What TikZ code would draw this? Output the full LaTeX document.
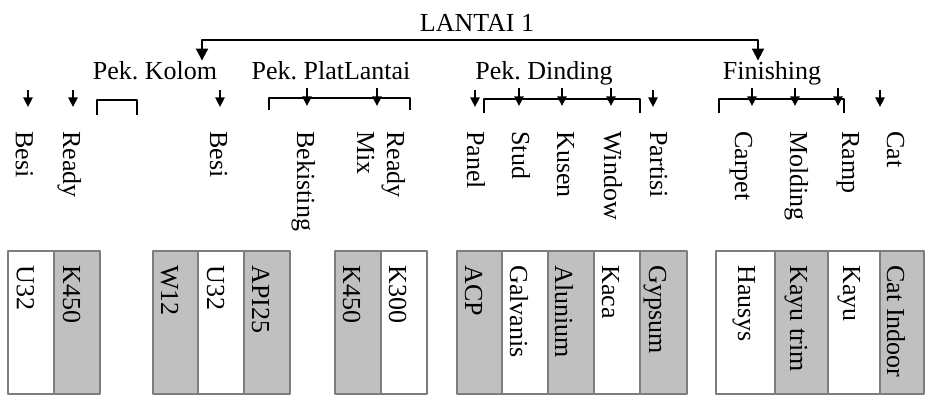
\documentclass[tikz,border=0pt]{standalone}
\usepackage{fontspec}
\setmainfont{Liberation Serif}
\usetikzlibrary{arrows.meta}

\definecolor{boxgray}{RGB}{192,192,192}
\definecolor{edgegray}{RGB}{125,125,125}

\begin{document}
\frenchspacing
\begin{tikzpicture}[x=0.5pt, y=-0.5pt, line join=round,
    font=\fontsize{13}{15}\selectfont,
    tip/.style={line width=1pt, -{Triangle[length=4.8pt,width=4.6pt]}},
    bigtip/.style={line width=1pt, {Triangle[length=6pt,width=6pt]}-{Triangle[length=6pt,width=6pt]}},
    brace/.style={line width=1pt},
    head/.style={anchor=base, inner sep=0pt},
    lbl/.style={rotate=-90, anchor=base west, inner sep=0pt},
    wbox/.style={draw=edgegray, line width=0.7pt, fill=white},
    gbox/.style={wbox, fill=boxgray}]
    \useasboundingbox (0,0) rectangle (925,396);

    % headings
    \node[head] (lantai) at (477,32) {LANTAI 1};
    \node[head] (kolom) at (155,79) {Pek. Kolom};
    \node[head] (plat) at (331,79) {Pek. PlatLantai};
    \node[head] (dinding) at (544,79) {Pek. Dinding};
    \node[head] (fin) at (772,79) {Finishing};

    \coordinate (kl) at (202,40);
    \coordinate (fn) at (758,40);
    \draw[bigtip] (kl |- kolom.north) -- (kl) -- (fn) -- (fn |- fin.north);

    % brackets under the headings
    \draw[brace] (97,115) -- (97,100) -- (137,100) -- (137,115);
    \draw[brace] (269,110) -- (269,98) -- (410,98) -- (410,110);
    \draw[brace] (484,113) -- (484,99) -- (640,99) -- (640,113);
    \draw[brace] (719,113) -- (719,99) -- (844,99) -- (844,113);

    \foreach \x in {307,377,519,562,611,752,795,838}
        \draw[tip] (\x,88) -- (\x,106);
    \foreach \x in {28,73,220,475,653,880}
        \draw[tip] (\x,90) -- (\x,107);

    % item names
    \foreach \x/\t [count=\i] in {16/Besi, 63/Ready, 210/Besi, 297/Bekisting,
        357/Mix, 387/Ready, 467/Panel, 512/Stud, 557/Kusen, 604/Window,
        650/Partisi, 735/Carpet, 790/Molding, 842/Ramp, 887/Cat}
        \node[lbl] (item\i) at (\x,131) {\t};

    % material boxes
    \foreach \a/\b/\s/\tx/\t [count=\i] in {8/54/wbox/17/U32, 54/100/gbox/63/K450,
        153/198/gbox/161/W12, 198/244/wbox/207/U32, 244/290/gbox/252/API25,
        335/381/gbox/343/K450, 381/427/wbox/389/K300,
        457/502/gbox/465/ACP, 502/548/wbox/510/Galvanis, 548/594/gbox/555/Alunium,
        594/640/wbox/602/Kaca, 640/687/gbox/649/Gypsum,
        716/775/wbox/738/Hausys, 775/828/gbox/790/Kayu trim,
        828/880/wbox/843/Kayu, 880/924/gbox/887/Cat Indoor}
    {
        \draw[\s] (\a,251) rectangle (\b,394);
        \node[lbl] (mat\i) at (\tx,265) {\t};
    }
\end{tikzpicture}
\end{document}
